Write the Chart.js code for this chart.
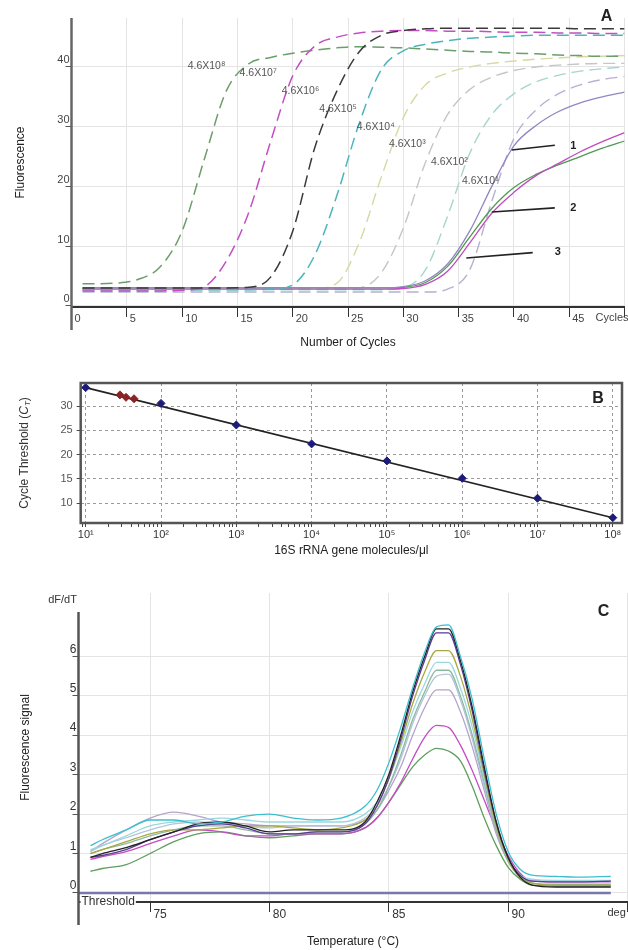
<!DOCTYPE html>
<html>
<head>
<meta charset="utf-8">
<script src="https://cdn.jsdelivr.net/npm/chart.js@4.4.1/dist/chart.umd.min.js"></script>
<style>
  body { margin: 0; background: #fff; width: 628px; height: 950px; overflow: hidden; position: relative; }
  canvas { position: absolute; left: 0; }
</style>
</head>
<body>
<canvas id="chartA" width="628" height="360" style="top:0"></canvas>
<canvas id="chartB" width="628" height="200" style="top:360px"></canvas>
<canvas id="chartC" width="628" height="390" style="top:560px"></canvas>
<script>
// ---------- A: amplification curves ----------
const cycles = [1, 2, 4, 6, 8, 10, 12, 14, 16, 18, 20, 22, 24, 26, 28, 30, 32, 34, 36, 38, 40, 42, 44, 46, 48, 50];
const std1e8 = [3.7, 3.7, 3.8, 4.4, 6.5, 12.5, 24.5, 36.0, 40.5, 41.6, 42.3, 42.8, 43.2, 43.4, 43.3, 43.2, 43.0, 42.8, 42.6, 42.5, 42.3, 42.2, 42.0, 41.9, 41.8, 41.8];
const std1e7 = [2.5, 2.5, 2.5, 2.5, 2.5, 2.6, 3.2, 7.5, 15.5, 27.5, 38.5, 43.5, 45.0, 45.7, 46.0, 46.1, 46.1, 46.0, 46.0, 45.9, 45.8, 45.8, 45.7, 45.7, 45.6, 45.6];
const std1e6 = [3.0, 3.0, 3.0, 3.0, 3.0, 3.0, 3.0, 3.0, 3.1, 4.8, 12.5, 26.5, 36.0, 42.5, 45.3, 46.1, 46.4, 46.5, 46.5, 46.5, 46.5, 46.5, 46.5, 46.4, 46.4, 46.4];
const std1e5 = [2.7, 2.7, 2.7, 2.7, 2.7, 2.7, 2.7, 2.7, 2.7, 2.8, 3.5, 8.5, 18.5, 30.5, 39.5, 42.7, 43.8, 44.4, 44.8, 45.0, 45.2, 45.3, 45.3, 45.3, 45.3, 45.3];
const std1e4 = [2.8, 2.8, 2.8, 2.8, 2.8, 2.8, 2.8, 2.8, 2.8, 2.8, 2.8, 2.9, 3.8, 10.5, 21.5, 31.5, 37.0, 39.0, 40.0, 40.6, 41.0, 41.3, 41.5, 41.7, 41.8, 41.9];
const std1e3 = [2.9, 2.9, 2.9, 2.9, 2.9, 2.9, 2.9, 2.9, 2.9, 2.9, 2.9, 2.9, 2.9, 3.0, 5.5, 13.0, 24.0, 32.0, 36.2, 38.3, 39.4, 40.0, 40.3, 40.5, 40.6, 40.6];
const std1e2 = [2.7, 2.7, 2.7, 2.7, 2.7, 2.7, 2.7, 2.7, 2.7, 2.7, 2.7, 2.7, 2.7, 2.7, 2.7, 3.0, 6.0, 15.0, 25.5, 32.0, 35.5, 37.5, 38.6, 39.3, 39.7, 40.0];
const std1e1 = [2.3, 2.3, 2.3, 2.3, 2.3, 2.3, 2.3, 2.3, 2.3, 2.3, 2.3, 2.3, 2.3, 2.3, 2.3, 2.3, 2.3, 2.8, 6.0, 17.5, 28.0, 32.8, 35.5, 37.0, 37.9, 38.4];
const sample1 = [3.0, 3.0, 3.0, 3.0, 3.0, 3.0, 3.0, 3.0, 3.0, 3.0, 3.0, 3.0, 3.0, 3.0, 3.0, 3.2, 4.2, 7.0, 12.5, 20.0, 26.8, 30.2, 32.5, 34.0, 35.0, 35.8];
const sample2 = [2.8, 2.8, 2.8, 2.8, 2.8, 2.8, 2.8, 2.8, 2.8, 2.8, 2.8, 2.8, 2.8, 2.8, 2.8, 2.9, 3.6, 5.8, 10.5, 15.5, 19.0, 21.8, 23.8, 25.8, 27.5, 29.0];
const sample3 = [3.0, 3.0, 3.0, 3.0, 3.0, 3.0, 3.0, 3.0, 3.0, 3.0, 3.0, 3.0, 3.0, 3.0, 3.0, 3.1, 3.9, 6.6, 11.5, 16.3, 19.8, 22.0, 23.6, 25.0, 26.4, 27.6];
const xTicksA = [0, 5, 10, 15, 20, 25, 30, 35, 40, 45, 50];
const yTicksA = [0, 10, 20, 30, 40];
// curve labels: text, [cycle, fluorescence] where the text starts
const stdLabels = ['4.6X10⁸', '4.6X10⁷', '4.6X10⁶', '4.6X10⁵', '4.6X10⁴', '4.6X10³', '4.6X10²', '4.6X10¹'];
const stdLabelAt = [[10.5, 40.2], [15.2, 39.0], [19.0, 36.0], [22.4, 33.0], [25.8, 30.0], [28.7, 27.0], [32.5, 24.0], [35.3, 20.8]];
const sampleLabels = ['1', '2', '3'];
const sampleLeaderFrom = [[39.8, 26.1], [38.0, 15.7], [35.7, 8.0]];
const sampleLeaderTo = [[43.7, 26.9], [43.7, 16.4], [41.7, 8.9]];
const sampleLabelAt = [[45.1, 26.8], [45.1, 16.4], [43.7, 9.0]];

// ---------- B: standard curve ----------
const molecules = [1e1, 1e2, 1e3, 1e4, 1e5, 1e6, 1e7, 1e8];
const ctValues = [33.8, 30.55, 26.1, 22.2, 18.7, 15.1, 11.0, 7.0];
const sampleMolecules = [28.5, 34.3, 43.8];
const sampleCt = [32.3, 31.8, 31.5];
const fitMolecules = [1e1, 1e8];
const fitCt = [33.8, 7.0];
const decadeLabelsB = ['10¹', '10²', '10³', '10⁴', '10⁵', '10⁶', '10⁷', '10⁸'];
const yTicksB = [10, 15, 20, 25, 30];

// ---------- C: melting curves ----------
const meltTemps = [72.5, 73, 74, 75, 76, 77, 78, 79, 80, 81, 82, 83, 84, 84.5, 85, 85.5, 86, 86.5, 87, 87.5, 88, 88.5, 89, 89.5, 90, 90.5, 91, 92, 93, 94.3];
const meltCyan = [1.2, 1.35, 1.6, 1.85, 1.85, 1.75, 1.8, 1.95, 2.0, 1.9, 1.85, 1.9, 2.2, 2.6, 3.3, 4.2, 5.2, 6.1, 6.75, 6.8, 6.0, 4.9, 3.4, 2.0, 1.05, 0.6, 0.45, 0.42, 0.4, 0.42];
const meltBlack = [0.9, 1.0, 1.15, 1.35, 1.55, 1.75, 1.8, 1.7, 1.55, 1.6, 1.6, 1.6, 1.8, 2.3, 3.0, 4.0, 5.1, 6.0, 6.7, 6.7, 5.9, 4.7, 3.2, 1.8, 0.9, 0.4, 0.2, 0.15, 0.15, 0.15];
const meltPurple = [0.9, 0.95, 1.1, 1.35, 1.55, 1.7, 1.75, 1.65, 1.5, 1.5, 1.55, 1.55, 1.75, 2.2, 2.9, 3.9, 5.0, 5.9, 6.6, 6.6, 5.8, 4.6, 3.1, 1.8, 0.9, 0.45, 0.3, 0.28, 0.28, 0.3];
const meltOlive = [1.0, 1.1, 1.3, 1.5, 1.6, 1.6, 1.65, 1.7, 1.7, 1.65, 1.6, 1.65, 1.85, 2.2, 2.9, 3.8, 4.8, 5.6, 6.15, 6.15, 5.5, 4.4, 3.0, 1.7, 0.85, 0.4, 0.25, 0.2, 0.2, 0.2];
const meltLightCyan = [1.1, 1.2, 1.45, 1.7, 1.8, 1.85, 1.9, 1.85, 1.8, 1.8, 1.8, 1.8, 2.0, 2.3, 2.9, 3.7, 4.6, 5.3, 5.85, 5.85, 5.2, 4.2, 2.9, 1.7, 0.85, 0.45, 0.35, 0.32, 0.32, 0.32];
const meltGreyGreen = [1.0, 1.1, 1.25, 1.45, 1.6, 1.7, 1.7, 1.6, 1.5, 1.5, 1.55, 1.55, 1.75, 2.1, 2.7, 3.5, 4.4, 5.1, 5.65, 5.65, 5.0, 4.0, 2.8, 1.6, 0.8, 0.4, 0.25, 0.22, 0.22, 0.22];
const meltBlueGrey = [1.05, 1.2, 1.4, 1.6, 1.75, 1.8, 1.75, 1.7, 1.65, 1.7, 1.7, 1.7, 1.9, 2.2, 2.7, 3.4, 4.3, 5.0, 5.5, 5.55, 4.9, 3.9, 2.7, 1.6, 0.8, 0.45, 0.33, 0.3, 0.3, 0.3];
const meltLavender = [1.05, 1.25, 1.6, 1.9, 2.05, 1.95, 1.8, 1.75, 1.7, 1.7, 1.7, 1.7, 1.85, 2.1, 2.6, 3.2, 4.0, 4.7, 5.15, 5.15, 4.6, 3.7, 2.6, 1.5, 0.8, 0.45, 0.3, 0.3, 0.3, 0.3];
const meltMagenta = [0.85, 0.92, 1.05, 1.25, 1.45, 1.6, 1.55, 1.45, 1.45, 1.5, 1.5, 1.5, 1.65, 1.9, 2.3, 2.8, 3.4, 3.95, 4.25, 4.2, 3.75, 3.1, 2.35, 1.6, 0.95, 0.5, 0.3, 0.28, 0.28, 0.28];
const meltGreen = [0.55, 0.62, 0.72, 1.0, 1.3, 1.5, 1.55, 1.45, 1.4, 1.45, 1.5, 1.5, 1.65, 1.9, 2.3, 2.75, 3.2, 3.5, 3.67, 3.6, 3.35, 2.7, 1.9, 1.2, 0.65, 0.35, 0.2, 0.18, 0.18, 0.18];
const thresholdLevel = 0;
const thresholdSpan = [72, 94.3];
const xTicksC = [75, 80, 85, 90, 95];
const yTicksC = [0, 1, 2, 3, 4, 5, 6];

Chart.defaults.font.family = "'Liberation Sans', Arial, sans-serif";
Chart.defaults.color = '#333';
const FONT = "'Liberation Sans', Arial, sans-serif";
const gridGrey = '#e4e4e4';

function ampSet(values, color, dashed, width) {
    return {
        data: cycles.map((c, i) => ({ x: c, y: values[i] })),
        borderColor: color,
        borderWidth: width,
        borderDash: dashed ? [12, 6] : [],
        pointRadius: 0,
        fill: false,
        cubicInterpolationMode: 'monotone',
    };
}

function meltSet(values, color) {
    return {
        data: meltTemps.map((t, i) => ({ x: t, y: values[i] })),
        borderColor: color,
        borderWidth: 1.3,
        pointRadius: 0,
        fill: false,
        cubicInterpolationMode: 'monotone',
    };
}

function fixedTicks(list) {
    return (axis) => { axis.ticks = list.map((v) => ({ value: v })); };
}

// draws the y axis line a bit past the x axis, as in the original software plots
function axisStub(chart, topOffset, color) {
    const { ctx, chartArea } = chart;
    ctx.save();
    ctx.strokeStyle = color;
    ctx.lineWidth = 2.5;
    ctx.beginPath();
    ctx.moveTo(chartArea.left, chartArea.top + topOffset);
    ctx.lineTo(chartArea.left, chartArea.bottom + 23);
    ctx.stroke();
    ctx.restore();
}

const panelA = {
    id: 'panelA',
    afterDraw(chart) {
        const { ctx, chartArea, scales: { x, y } } = chart;
        axisStub(chart, 0, '#666');
        ctx.save();
        ctx.font = '10.5px ' + FONT;
        ctx.fillStyle = '#555';
        ctx.textBaseline = 'middle';
        ctx.textAlign = 'left';
        stdLabels.forEach((t, i) => {
            ctx.fillText(t, x.getPixelForValue(stdLabelAt[i][0]), y.getPixelForValue(stdLabelAt[i][1]));
        });
        ctx.strokeStyle = '#222';
        ctx.lineWidth = 1.6;
        sampleLabels.forEach((t, i) => {
            ctx.beginPath();
            ctx.moveTo(x.getPixelForValue(sampleLeaderFrom[i][0]), y.getPixelForValue(sampleLeaderFrom[i][1]));
            ctx.lineTo(x.getPixelForValue(sampleLeaderTo[i][0]), y.getPixelForValue(sampleLeaderTo[i][1]));
            ctx.stroke();
        });
        ctx.font = 'bold 11px ' + FONT;
        ctx.fillStyle = '#222';
        sampleLabels.forEach((t, i) => {
            ctx.fillText(t, x.getPixelForValue(sampleLabelAt[i][0]), y.getPixelForValue(sampleLabelAt[i][1]));
        });
        ctx.font = '11px ' + FONT;
        ctx.fillStyle = '#444';
        ctx.fillText('Cycles', chartArea.right - 29, chartArea.bottom + 11);
        ctx.font = 'bold 16px ' + FONT;
        ctx.fillStyle = '#222';
        ctx.textAlign = 'center';
        ctx.fillText('A', chartArea.right - 18, chartArea.top - 1);
        ctx.restore();
    },
};

const panelB = {
    id: 'panelB',
    afterDraw(chart) {
        const { ctx, chartArea: a } = chart;
        ctx.save();
        ctx.strokeStyle = '#555';
        ctx.lineWidth = 2.5;
        ctx.strokeRect(a.left, a.top, a.right - a.left, a.bottom - a.top);
        ctx.font = 'bold 16px ' + FONT;
        ctx.fillStyle = '#222';
        ctx.textAlign = 'center';
        ctx.textBaseline = 'middle';
        ctx.fillText('B', a.right - 24, a.top + 16);
        // y title with subscript T
        const parts = [
            { t: 'Cycle Threshold (', f: '12px ' + FONT, dy: 0 },
            { t: 'C', f: 'italic 12px ' + FONT, dy: 0 },
            { t: 'T', f: 'italic 8px ' + FONT, dy: 3 },
            { t: ')', f: '12px ' + FONT, dy: 0 },
        ];
        let total = 0;
        parts.forEach((p) => { ctx.font = p.f; p.w = ctx.measureText(p.t).width; total += p.w; });
        ctx.translate(25, (a.top + a.bottom) / 2);
        ctx.rotate(-Math.PI / 2);
        ctx.textAlign = 'left';
        ctx.fillStyle = '#333';
        let px = -total / 2;
        parts.forEach((p) => { ctx.font = p.f; ctx.fillText(p.t, px, p.dy); px += p.w; });
        ctx.restore();
    },
};

const panelC = {
    id: 'panelC',
    afterDraw(chart) {
        const { ctx, chartArea: a } = chart;
        axisStub(chart, 19, '#555');
        ctx.save();
        ctx.font = '11px ' + FONT;
        ctx.fillStyle = '#333';
        ctx.textAlign = 'center';
        ctx.textBaseline = 'middle';
        ctx.fillText('dF/dT', a.left - 16, a.top + 7);
        ctx.textAlign = 'left';
        ctx.fillText('deg', a.right - 20, a.bottom + 11);
        ctx.font = '12px ' + FONT;
        const w = ctx.measureText('Threshold').width;
        ctx.fillStyle = '#fff';
        ctx.fillRect(a.left + 2, a.bottom - 6, w + 2, 12);
        ctx.fillStyle = '#333';
        ctx.fillText('Threshold', a.left + 3, a.bottom);
        ctx.font = 'bold 16px ' + FONT;
        ctx.fillStyle = '#222';
        ctx.textAlign = 'center';
        ctx.fillText('C', a.right - 24, a.top + 19);
        ctx.restore();
    },
};

new Chart(document.getElementById('chartA'), {
    type: 'line',
    data: {
        datasets: [
            ampSet(std1e6, '#3a3a3a', true, 1.5),
            ampSet(std1e7, '#c44fc4', true, 1.5),
            ampSet(std1e5, '#4ab5bd', true, 1.5),
            ampSet(std1e8, '#6a9e6a', true, 1.5),
            ampSet(sample1, '#9585c0', false, 1.3),
            ampSet(sample2, '#c04cc0', false, 1.3),
            ampSet(sample3, '#4e9a4e', false, 1.3),
            ampSet(std1e4, '#d8d8a2', true, 1.4),
            ampSet(std1e3, '#c6c6c6', true, 1.4),
            ampSet(std1e2, '#a6d6ce', true, 1.4),
            ampSet(std1e1, '#b6b0d2', true, 1.4),
        ],
    },
    options: {
        responsive: false,
        animation: false,
        layout: { padding: { top: 18, right: 3.5, bottom: 0, left: 0 } },
        plugins: { legend: { display: false }, tooltip: { enabled: false } },
        scales: {
            x: {
                type: 'linear', min: 0, max: 50,
                afterBuildTicks: fixedTicks(xTicksA),
                afterFit: (s) => { s.height = 53; },
                grid: { color: gridGrey, tickColor: '#333', tickLength: 10 },
                border: { color: '#333', width: 2 },
                ticks: {
                    padding: -5, align: 'start', autoSkip: false, maxRotation: 0,
                    font: { size: 11 }, color: '#444',
                    callback: (v) => (v === 50 ? '' : ' ' + v),
                },
                title: { display: true, text: 'Number of Cycles', font: { size: 12 }, color: '#222', padding: { top: 0, bottom: 10 } },
            },
            y: {
                min: -0.2, max: 48.2,
                afterBuildTicks: fixedTicks(yTicksA),
                afterFit: (s) => { s.width = 71.5; },
                grid: { color: gridGrey, tickColor: '#555', tickLength: 6 },
                border: { display: false },
                ticks: { padding: -4, font: { size: 11 }, color: '#444', callback: (v) => [String(v), ''] },
                title: { display: true, text: 'Fluorescence', font: { size: 12 }, color: '#222', padding: { top: 13, bottom: 0 } },
            },
        },
    },
    plugins: [panelA],
});

new Chart(document.getElementById('chartB'), {
    type: 'scatter',
    data: {
        datasets: [
            {
                data: molecules.map((m, i) => ({ x: m, y: ctValues[i] })),
                pointStyle: 'rectRot', pointRadius: 4,
                backgroundColor: '#1c1c78', borderColor: '#1c1c78',
            },
            {
                data: sampleMolecules.map((m, i) => ({ x: m, y: sampleCt[i] })),
                pointStyle: 'rectRot', pointRadius: 4,
                backgroundColor: '#8a2424', borderColor: '#8a2424',
            },
            {
                data: fitMolecules.map((m, i) => ({ x: m, y: fitCt[i] })),
                showLine: true, pointRadius: 0, borderColor: '#222', borderWidth: 1.6,
            },
        ],
    },
    options: {
        responsive: false,
        animation: false,
        layout: { padding: { top: 23, right: 6, bottom: 0, left: 0 } },
        plugins: { legend: { display: false }, tooltip: { enabled: false } },
        scales: {
            x: {
                type: 'logarithmic', min: 8.58, max: 1.325e8,
                afterBuildTicks: (ax) => {
                    const t = [{ value: 9 }];
                    molecules.forEach((d, i) => {
                        t.push({ value: d, major: true });
                        if (i < molecules.length - 1) {
                            for (let k = 2; k <= 9; k++) t.push({ value: k * d });
                        }
                    });
                    ax.ticks = t;
                },
                afterFit: (s) => { s.height = 37; },
                grid: {
                    color: (c) => (c.tick && c.tick.major ? '#9a9a9a' : 'rgba(0,0,0,0)'),
                    tickColor: '#444', tickLength: 4,
                },
                border: { display: false, dash: [3, 3] },
                ticks: {
                    padding: 1, autoSkip: false, maxRotation: 0, font: { size: 11 }, color: '#333',
                    callback: (v) => { const k = molecules.indexOf(v); return k >= 0 ? decadeLabelsB[k] : ''; },
                },
                title: { display: true, text: '16S rRNA gene molecules/μl', font: { size: 12 }, color: '#222', padding: { top: 0, bottom: 2.5 } },
            },
            y: {
                min: 5.9, max: 34.75,
                afterBuildTicks: fixedTicks(yTicksB),
                afterFit: (s) => { s.width = 80.7; },
                grid: { color: '#9a9a9a', tickColor: '#444', tickLength: 4 },
                border: { display: false, dash: [3, 3] },
                ticks: { padding: 4, font: { size: 11 }, color: '#555' },
                title: { display: false },
            },
        },
    },
    plugins: [panelB],
});

new Chart(document.getElementById('chartC'), {
    type: 'line',
    data: {
        datasets: [
            meltSet(meltCyan, '#3cbfcf'),
            meltSet(meltBlack, '#222222'),
            meltSet(meltPurple, '#5a3a9a'),
            meltSet(meltOlive, '#a8a840'),
            meltSet(meltLightCyan, '#9ad8df'),
            meltSet(meltGreyGreen, '#8fb8a0'),
            meltSet(meltBlueGrey, '#b4c4dc'),
            meltSet(meltLavender, '#b4a4cc'),
            meltSet(meltMagenta, '#c44cc4'),
            meltSet(meltGreen, '#5e9e5e'),
            {
                data: thresholdSpan.map((t) => ({ x: t, y: thresholdLevel })),
                borderColor: '#7a78aa', borderWidth: 2.5, pointRadius: 0,
            },
        ],
    },
    options: {
        responsive: false,
        animation: false,
        layout: { padding: { top: 33, right: 0.5, bottom: 0, left: 0 } },
        plugins: { legend: { display: false }, tooltip: { enabled: false } },
        scales: {
            x: {
                type: 'linear', min: 72, max: 95,
                afterBuildTicks: fixedTicks(xTicksC),
                afterFit: (s) => { s.height = 48; },
                grid: { color: gridGrey, tickColor: '#333', tickLength: 10 },
                border: { color: '#333', width: 2 },
                ticks: {
                    padding: -5, align: 'start', autoSkip: false, maxRotation: 0,
                    font: { size: 12 }, color: '#333',
                    callback: (v) => (v === 95 ? '' : ' ' + v),
                },
                title: { display: true, text: 'Temperature (°C)', font: { size: 12 }, color: '#222', padding: { top: 0, bottom: 1 } },
            },
            y: {
                min: -0.23, max: 7.61,
                afterBuildTicks: fixedTicks(yTicksC),
                afterFit: (s) => { s.width = 78.5; },
                grid: { color: gridGrey, tickColor: '#555', tickLength: 6 },
                border: { display: false },
                ticks: { padding: -4, font: { size: 12 }, color: '#333', callback: (v) => [String(v), ''] },
                title: { display: true, text: 'Fluorescence signal', font: { size: 12 }, color: '#222', padding: { top: 18, bottom: 0 } },
            },
        },
    },
    plugins: [panelC],
});
</script>
</body>
</html>
